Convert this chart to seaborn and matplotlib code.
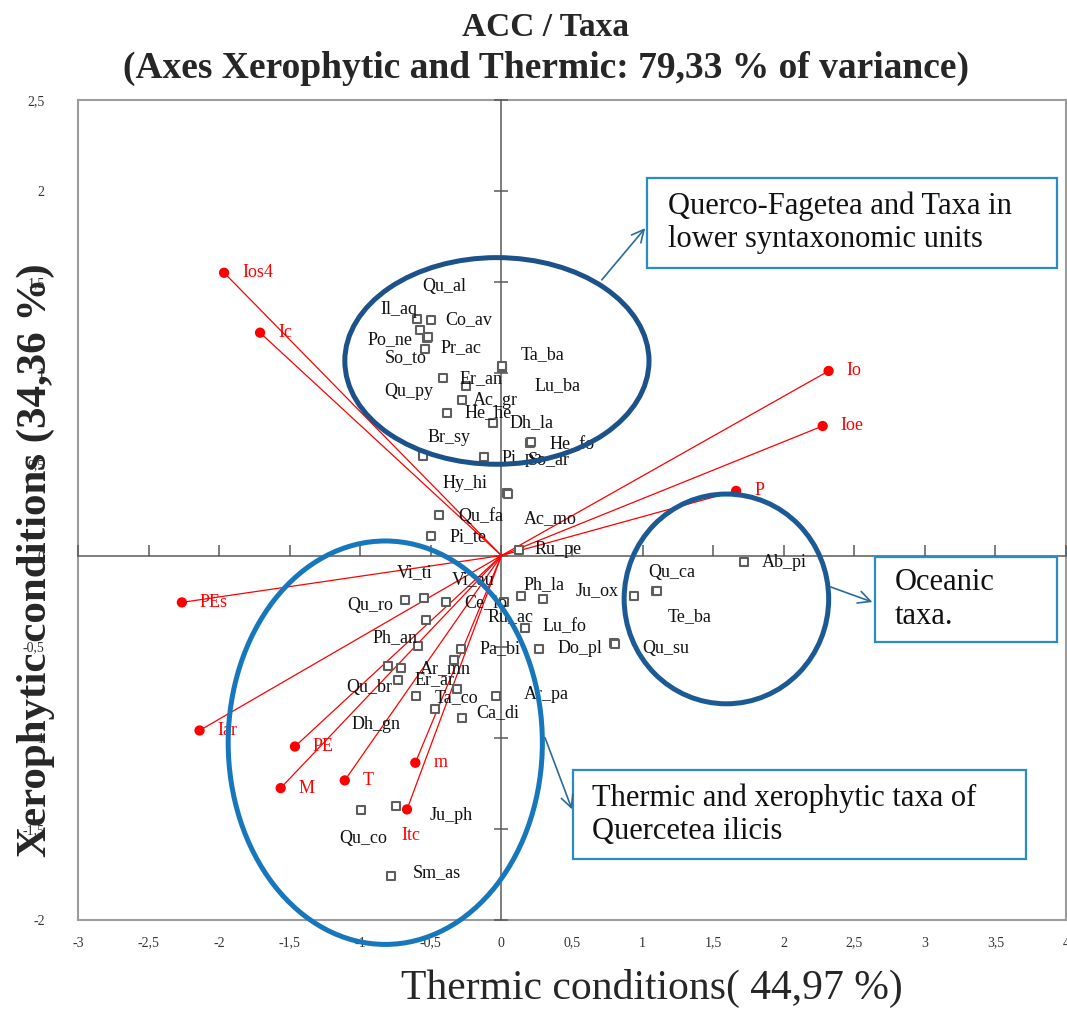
import seaborn as sns
import matplotlib.pyplot as plt
from matplotlib.patches import Ellipse, Rectangle, FancyArrowPatch
from matplotlib.ticker import MultipleLocator, FuncFormatter

sns.set_theme(style='white')
plt.rcParams['font.family'] = ['Liberation Serif', 'DejaVu Serif']

# Taxa (grey squares) - CCA scores
taxa = ['Qu_al', 'Il_aq', 'Co_av', 'Po_ne', 'Pr_ac', 'So_to', 'Ta_ba', 'Lu_ba',
        'Er_an', 'Qu_py', 'Ac_gr', 'He_he', 'Dh_la', 'He_fo', 'So_ar', 'Pi_pa',
        'Br_sy', 'Hy_hi', 'Ac_mo', 'Qu_fa', 'Pi_te', 'Ru_pe', 'Qu_ro', 'Vi_ti',
        'Vi_au', 'Ce_lo', 'Ph_la', 'Ru_ac', 'Lu_fo', 'Pa_bi', 'Do_pl', 'Qu_su',
        'Ju_ox', 'Qu_ca', 'Te_ba', 'Ab_pi', 'Ph_an', 'Ar_mn', 'Er_ar', 'Qu_br',
        'Ta_co', 'Dh_gn', 'Ca_di', 'Ar_pa', 'Qu_co', 'Ju_ph', 'Sm_as',
        '', '', '', '']
taxa_x = [-0.580, -0.599, -0.497, -0.528, -0.519, -0.539, 0.002, 0.007,
          -0.254, -0.415, -0.281, -0.384, -0.061, 0.205, 0.212, -0.127,
          -0.556, 0.040, 0.045, -0.443, -0.497, 0.127, -0.686, -0.551,
          -0.396, 0.021, 0.139, 0.297, 0.167, 0.269, 0.799, 0.806,
          0.940, 1.093, 1.099, 1.717, -0.592, -0.339, -0.714, -0.733,
          -0.316, -0.608, -0.278, -0.037, -0.992, -0.749, -0.784,
          -0.532, -0.285, -0.804, -0.473]
taxa_y = [1.237, 1.296, 1.290, 1.192, 1.197, 1.135, 1.031, 1.041,
          0.930, 0.973, 0.854, 0.782, 0.730, 0.616, 0.622, 0.541,
          0.547, 0.343, 0.339, 0.222, 0.105, 0.032, -0.242, -0.235,
          -0.256, -0.256, -0.224, -0.238, -0.397, -0.512, -0.479, -0.485,
          -0.224, -0.193, -0.197, -0.034, -0.498, -0.571, -0.618, -0.681,
          -0.735, -0.772, -0.892, -0.772, -1.398, -1.376, -1.760,
          -0.352, -0.512, -0.607, -0.841]

# Environmental variables (red vectors)
variables = ['Ios4', 'Ic', 'Io', 'Ioe', 'P', 'PEs', 'Iar', 'PE', 'M', 'T', 'm', 'Itc']
var_x = [-1.965, -1.710, 2.318, 2.276, 1.663, -2.264, -2.139, -1.463, -1.564, -1.110, -0.610, -0.669]
var_y = [1.552, 1.223, 1.013, 0.711, 0.355, -0.257, -0.960, -1.048, -1.276, -1.234, -1.137, -1.393]

# label placement (offset in pixels from the point: left edge, vertical centre)
taxa_offsets = {
    'Qu_al': (3, 44), 'Il_aq': (-36, 10), 'Co_av': (14, 1), 'Po_ne': (-59, -1),
    'Pr_ac': (12, -10), 'So_to': (-41, -9), 'Ta_ba': (19, 13), 'Lu_ba': (32, -20),
    'Er_an': (-6, 7), 'Qu_py': (-59, -13), 'Ac_gr': (11, -1), 'He_he': (17, 0),
    'Dh_la': (17, 0), 'He_fo': (19, -1), 'So_ar': (-4, -17), 'Pi_pa': (18, -2),
    'Br_sy': (5, 18), 'Hy_hi': (-65, 10), 'Ac_mo': (16, -25), 'Qu_fa': (19, -1),
    'Pi_te': (18, 0), 'Ru_pe': (15, 0), 'Qu_ro': (-57, -6), 'Vi_ti': (-27, 26),
    'Vi_au': (6, 23), 'Ce_lo': (-40, 0), 'Ph_la': (2, 12), 'Ru_ac': (-56, -18),
    'Lu_fo': (18, 1), 'Pa_bi': (-60, 0), 'Do_pl': (-57, -6), 'Qu_su': (27, -5),
    'Ju_ox': (-58, 6), 'Qu_ca': (-7, 18), 'Te_ba': (11, -25), 'Ab_pi': (18, -1),
    'Ph_an': (-45, 9), 'Ar_mn': (-34, -9), 'Er_ar': (14, -11), 'Qu_br': (-52, -8),
    'Ta_co': (-22, -8), 'Dh_gn': (-64, -28), 'Ca_di': (14, 5), 'Ar_pa': (28, 2),
    'Qu_co': (-22, -28), 'Ju_ph': (34, -9), 'Sm_as': (22, 4),
}
var_offsets = {'Itc': (-6, -26)}

W, H = 1067, 1014


def fx(px):
    return px / W


def fy(py):
    return 1 - py / H


fig = plt.figure(figsize=(W / 100, H / 100), dpi=100)
rect = [fx(78), fy(920), (1066 - 78) / W, (920 - 100) / H]

# background axes: frame + tick labels
ax = fig.add_axes(rect)
ax.set_xlim(-3, 4)
ax.set_ylim(-2, 2.5)
fmt = FuncFormatter(lambda v, p: f'{v:g}'.replace('.', ','))
ax.xaxis.set_major_locator(MultipleLocator(0.5))
ax.yaxis.set_major_locator(MultipleLocator(0.5))
ax.xaxis.set_major_formatter(fmt)
ax.yaxis.set_major_formatter(fmt)
ax.tick_params(axis='x', length=0, labelsize=10, pad=12, labelcolor='#333333')
ax.tick_params(axis='y', length=0, labelsize=10, pad=24, labelcolor='#333333')
for s in ax.spines.values():
    s.set_color('#9c9c9c')
    s.set_linewidth(1.5)

# front axes: axes through the origin, all marks
ax2 = fig.add_axes(rect, sharex=ax, sharey=ax)
ax2.patch.set_visible(False)
ax2.spines['top'].set_visible(False)
ax2.spines['right'].set_visible(False)
ax2.spines['left'].set_position(('data', 0))
ax2.spines['bottom'].set_position(('data', 0))
for s in ['left', 'bottom']:
    ax2.spines[s].set_color('#5a5a5a')
    ax2.spines[s].set_linewidth(1.1)
ax2.tick_params(axis='x', direction='in', length=8, width=1.1, color='#5a5a5a',
                labelbottom=False, bottom=True)
ax2.tick_params(axis='y', direction='inout', length=10, width=1.1, color='#5a5a5a',
                labelleft=False, left=True)

# red vectors
for vx, vy in zip(var_x, var_y):
    ax2.plot([0, vx], [0, vy], color='red', lw=0.9, zorder=3)
sns.scatterplot(x=var_x, y=var_y, color='red', s=55, edgecolor='none', ax=ax2, zorder=5)
for name, vx, vy in zip(variables, var_x, var_y):
    dx, dy = var_offsets.get(name, (18, 0))
    ax2.annotate(name, (vx, vy), xytext=(dx, dy), textcoords='offset pixels',
                 color='red', fontsize=13, ha='left', va='center', zorder=6)

# taxa
sns.scatterplot(x=taxa_x, y=taxa_y, marker='s', s=30, facecolor='white',
                edgecolor='#5e5e5e', linewidth=1.5, ax=ax2, zorder=4)
for name, tx, ty in zip(taxa, taxa_x, taxa_y):
    if not name:
        continue
    dx, dy = taxa_offsets[name]
    ax2.annotate(name, (tx, ty), xytext=(dx, dy), textcoords='offset pixels',
                 color='#111111', fontsize=13, ha='left', va='center', zorder=6)

# group ellipses
ax2.add_patch(Ellipse((-0.032, 1.068), 2.155, 1.134, fill=False, ec='#1c5289', lw=3.6,
                      zorder=7, clip_on=False))
ax2.add_patch(Ellipse((-0.823, -1.027), 2.226, 2.214, fill=False, ec='#1677bd', lw=3.6,
                      zorder=7, clip_on=False))
ax2.add_patch(Ellipse((1.594, -0.238), 1.449, 1.151, fill=False, ec='#1c5a95', lw=3.6,
                      zorder=7, clip_on=False))

# callout boxes
boxes = [
    ((647, 178, 1057, 268), 'Querco-Fagetea and Taxa in\nlower syntaxonomic units', 668,
     ((600, 282), (647, 226))),
    ((875, 557, 1057, 642), 'Oceanic\ntaxa.', 895, ((828, 586), (875, 603))),
    ((573, 770, 1026, 859), 'Thermic and xerophytic taxa of\nQuercetea ilicis', 592,
     ((544, 735), (573, 812))),
]
for (x0, y0, x1, y1), txt, tx, (a0, a1) in boxes:
    fig.patches.append(Rectangle((fx(x0), fy(y1)), fx(x1) - fx(x0), fy(y0) - fy(y1),
                                 transform=fig.transFigure, fill=True, fc='white',
                                 ec='#2a8cc6', lw=1.6))
    fig.text(fx(tx), fy((y0 + y1) / 2), txt, fontsize=22, ha='left', va='center',
             linespacing=1.2, color='#111111')
    fig.patches.append(FancyArrowPatch((fx(a0[0]), fy(a0[1])), (fx(a1[0]), fy(a1[1])),
                                       transform=fig.transFigure, arrowstyle='->',
                                       mutation_scale=22, color='#2c6a9c', lw=1.2))

# titles
fig.text(fx(546), fy(28), 'ACC / Taxa', ha='center', va='center', fontsize=24,
         fontweight='bold')
fig.text(fx(546), fy(68), '(Axes Xerophytic and Thermic: 79,33 % of variance)',
         ha='center', va='center', fontsize=27, fontweight='bold')
fig.text(fx(652), fy(988), 'Thermic conditions( 44,97 %)', ha='center', va='center',
         fontsize=30)
fig.text(fx(36), fy(560), 'Xerophytic conditions (34,36 %)', ha='center', va='center',
         fontsize=31, rotation=90, fontweight='bold')

fig.savefig('out.png', dpi=100)
